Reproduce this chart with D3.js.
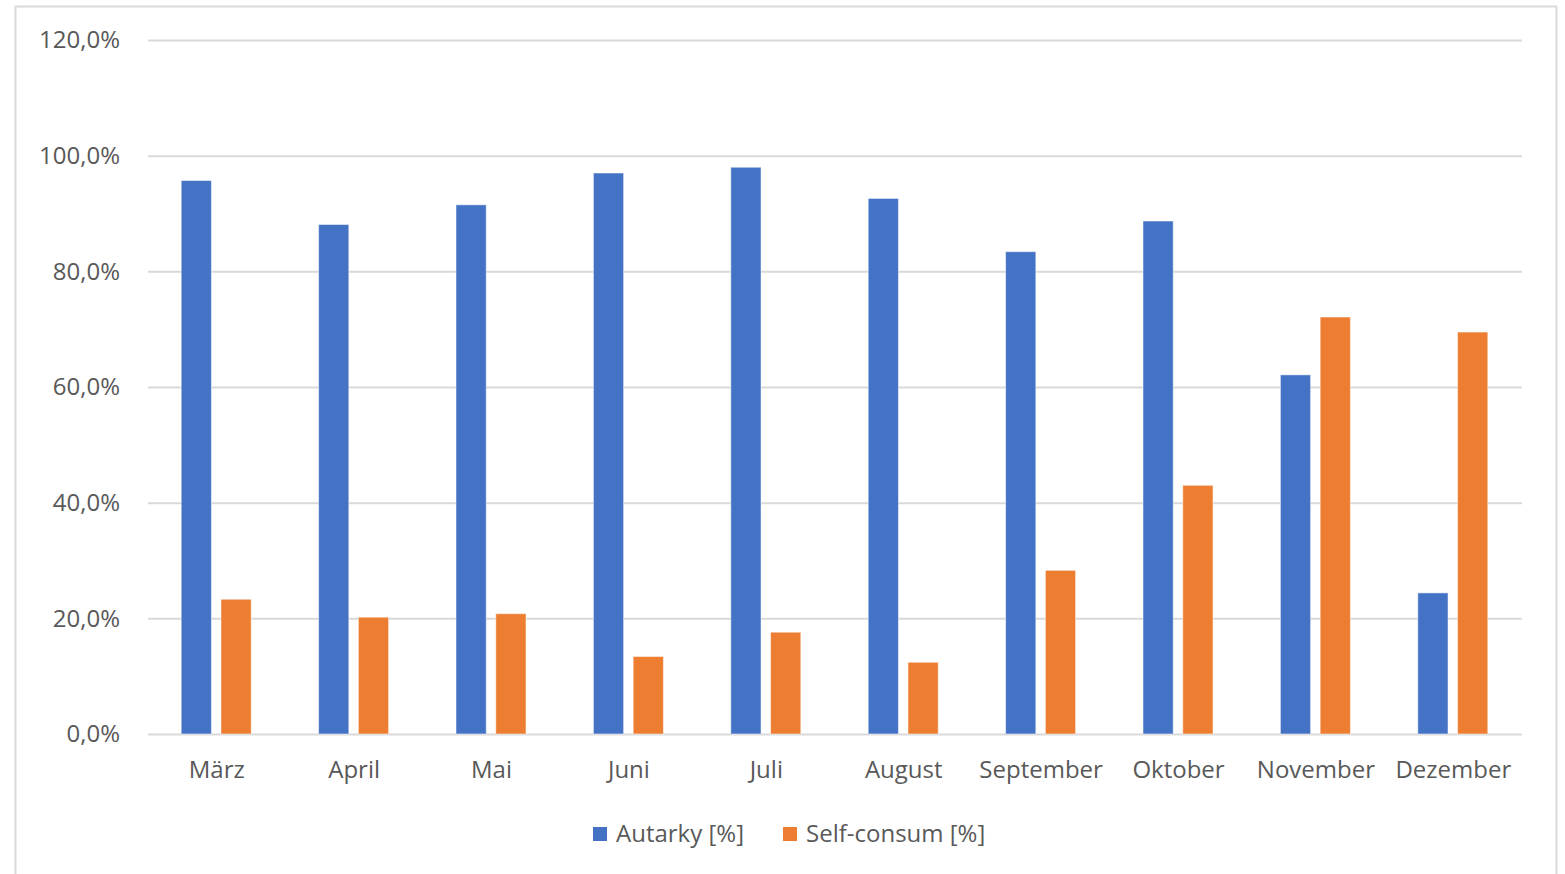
<!DOCTYPE html>
<html>
<head>
<meta charset="utf-8">
<script src="https://cdn.jsdelivr.net/npm/d3@7"></script>
<style>
  html, body { margin: 0; padding: 0; background: #fff; }
  svg { display: block; }
</style>
</head>
<body>
<div id="chart"></div>
<script>
// Daten
const months = ['März', 'April', 'Mai', 'Juni', 'Juli', 'August', 'September', 'Oktober', 'November', 'Dezember']
const autarky = [95.7, 88.1, 91.5, 97.0, 98.0, 92.6, 83.4, 88.7, 62.1, 24.4]
const selfConsum = [23.3, 20.2, 20.8, 13.4, 17.6, 12.4, 28.3, 43.0, 72.1, 69.5]
const yTicks = [0, 20, 40, 60, 80, 100, 120]
const seriesNames = ['Autarky [%]', 'Self-consum [%]']
const colors = ['#4472C4', '#ED7D31']

const width = 1565
const height = 874
const margin = { top: 40, right: 43, bottom: 140, left: 148 }
const fontFamily = '"Open Sans", "Noto Sans", sans-serif'
const fontSize = 24
const textColor = '#595959'

const svg = d3.select('#chart')
  .append('svg')
  .attr('width', width)
  .attr('height', height)
  .attr('font-family', fontFamily)

// Rahmen
svg.append('rect')
  .attr('x', 15.5)
  .attr('y', 6.5)
  .attr('width', 1541)
  .attr('height', 900)
  .attr('fill', '#fff')
  .attr('stroke', '#d9d9d9')
  .attr('stroke-width', 2)

const x0 = d3.scaleBand()
  .domain(months)
  .range([margin.left, width - margin.right])

const x1 = d3.scaleBand()
  .domain([0, 1])
  .range([0, 70])
  .paddingInner(0.24)

const y = d3.scaleLinear()
  .domain([0, 120])
  .range([height - margin.bottom, margin.top])

// Gitterlinien
const grid = svg.append('g')
  .attr('class', 'grid')
  .attr('transform', `translate(${margin.left},0)`)
  .call(d3.axisLeft(y)
    .tickValues(yTicks)
    .tickSize(-(width - margin.left - margin.right))
    .tickFormat(''))
grid.select('.domain').remove()
grid.selectAll('line')
  .attr('stroke', '#d9d9d9')
  .attr('stroke-width', 2)

// y-Achse Beschriftung
const yAxis = svg.append('g')
  .attr('transform', `translate(${margin.left},0)`)
  .call(d3.axisLeft(y)
    .tickValues(yTicks)
    .tickSize(0)
    .tickPadding(28)
    .tickFormat((d) => d3.format('.1f')(d).replace('.', ',') + '%'))
yAxis.attr('font-family', fontFamily).attr('font-size', fontSize)
yAxis.select('.domain').remove()
yAxis.selectAll('text')
  .attr('fill', textColor)

// Balken
const groups = svg.append('g')
  .selectAll('g')
  .data(months)
  .join('g')
  .attr('transform', (d) => `translate(${x0(d) + x0.bandwidth() / 2 - 35.5},0)`)

groups.selectAll('rect')
  .data((d, i) => [autarky[i], selfConsum[i]])
  .join('rect')
  .attr('x', (d, j) => x1(j))
  .attr('width', x1.bandwidth())
  .attr('y', (d) => y(d))
  .attr('height', (d) => y(0) - y(d))
  .attr('fill', (d, j) => colors[j])
  .attr('stroke', '#fff')
  .attr('stroke-opacity', 0.5)
  .attr('stroke-width', 1)

// x-Achse
const xAxis = svg.append('g')
  .attr('transform', `translate(0,${height - margin.bottom})`)
  .call(d3.axisBottom(x0).tickSize(0).tickPadding(27))
xAxis.attr('font-family', fontFamily).attr('font-size', fontSize)
xAxis.select('.domain').remove()
xAxis.selectAll('text')
  .attr('fill', textColor)

// Legende
const legendX = [593, 783]
const legend = svg.append('g')
  .selectAll('g')
  .data(seriesNames)
  .join('g')
  .attr('transform', (d, i) => `translate(${legendX[i]},827)`)
legend.append('rect')
  .attr('width', 14)
  .attr('height', 14)
  .attr('fill', (d, i) => colors[i])
legend.append('text')
  .attr('x', 23)
  .attr('y', 7)
  .attr('dy', '0.35em')
  .attr('fill', textColor)
  .attr('font-size', fontSize)
  .text((d) => d)
</script>
</body>
</html>
